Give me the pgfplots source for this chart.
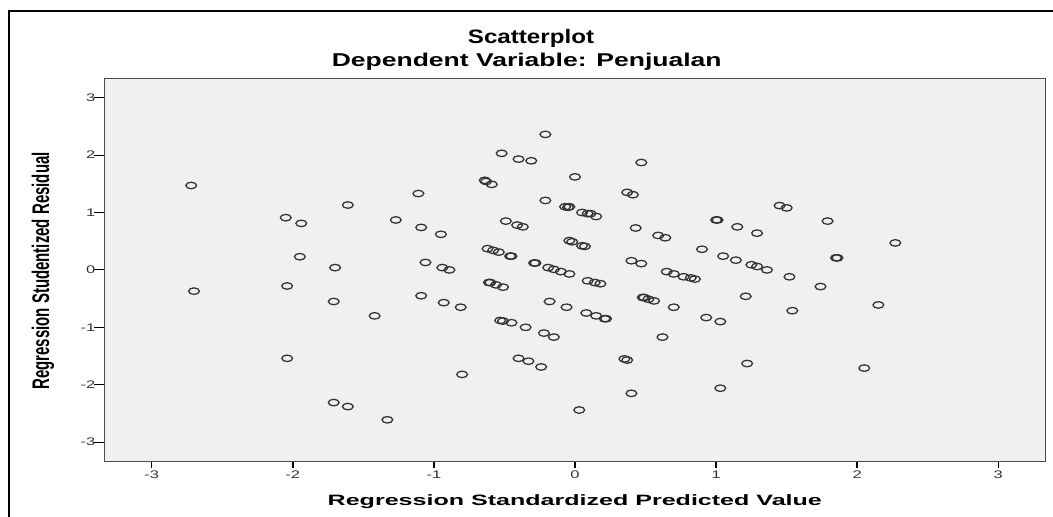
\documentclass[border=0pt]{standalone}
\usepackage{pgfplots}
\pgfplotsset{compat=1.18}
\usepackage{fontspec}
\setmainfont{Liberation Sans}
\usepackage{graphicx}
\definecolor{bg}{HTML}{F0F0F0}
\newcommand\sx[1]{\scalebox{1.5}[1]{#1}}
\pgfplotstableread{
x y
-2.72 1.47
-2.70 -0.37
-2.05 0.91
-1.94 0.81
-1.95 0.23
-2.04 -0.28
-2.04 -1.54
-1.61 1.13
-1.70 0.04
-1.71 -0.55
-1.71 -2.31
-1.61 -2.38
-1.42 -0.80
-1.33 -2.61
-1.27 0.87
-1.11 1.33
-1.09 0.74
-1.06 0.13
-1.09 -0.45
-0.95 0.62
-0.94 0.04
-0.89 0.00
-0.93 -0.57
-0.81 -0.65
-0.80 -1.82
-0.64 1.56
-0.63 1.54
-0.59 1.49
-0.52 2.03
-0.40 1.93
-0.31 1.90
-0.21 2.36
-0.21 1.21
-0.49 0.85
-0.41 0.78
-0.37 0.75
-0.62 0.37
-0.58 0.34
-0.54 0.31
-0.46 0.24
-0.45 0.24
-0.61 -0.22
-0.60 -0.22
-0.56 -0.26
-0.51 -0.30
-0.53 -0.88
-0.51 -0.89
-0.45 -0.92
-0.35 -1.00
-0.22 -1.10
-0.15 -1.17
-0.40 -1.54
-0.33 -1.59
-0.24 -1.69
-0.29 0.12
-0.28 0.12
-0.19 0.04
-0.15 0.01
-0.10 -0.03
-0.04 -0.07
-0.18 -0.55
-0.06 -0.65
0.00 1.62
-0.07 1.10
-0.05 1.09
-0.04 1.10
0.05 1.00
0.09 0.98
0.11 0.98
0.15 0.93
-0.04 0.51
-0.02 0.49
0.05 0.42
0.07 0.41
0.09 -0.19
0.14 -0.22
0.18 -0.24
0.08 -0.75
0.15 -0.80
0.22 -0.85
0.21 -0.85
0.03 -2.44
0.47 1.87
0.37 1.35
0.41 1.31
0.43 0.73
0.59 0.60
0.64 0.56
0.40 0.16
0.47 0.11
0.48 -0.48
0.49 -0.48
0.52 -0.51
0.56 -0.54
0.70 -0.65
0.62 -1.17
0.35 -1.55
0.37 -1.57
0.40 -2.15
0.65 -0.03
0.70 -0.07
0.77 -0.12
0.82 -0.14
0.85 -0.16
1.45 1.12
1.50 1.08
1.00 0.87
1.01 0.87
1.15 0.75
1.29 0.64
1.79 0.85
0.90 0.36
1.05 0.24
1.14 0.17
1.25 0.09
1.29 0.06
1.36 0.00
1.85 0.21
1.86 0.21
2.27 0.47
1.52 -0.12
1.74 -0.29
1.21 -0.46
1.54 -0.71
2.15 -0.61
0.93 -0.83
1.03 -0.90
1.22 -1.63
2.05 -1.71
1.03 -2.06
}\pts
\begin{document}
\begin{tikzpicture}[x=0.75pt,y=0.75pt]
\useasboundingbox (0,0) rectangle (1053,517);
\draw[line width=2pt] (9,0) -- (9,506) -- (1053,506);
\begin{axis}[
  at={(78.225pt,41.475pt)}, anchor=south west,
  scale only axis, width=706.05pt, height=287.25pt,
  xmin=-3.336, xmax=3.336, ymin=-3.34, ymax=3.33,
  axis background/.style={fill=bg},
  axis line style={draw=black!70, line width=0.9pt},
  xtick={-3,-2,-1,0,1,2,3}, ytick={-3,-2,-1,0,1,2,3},
  xticklabels={\sx{-3},\sx{-2},\sx{-1},\sx{0},\sx{1},\sx{2},\sx{3}},
  yticklabels={\sx{-3},\sx{-2},\sx{-1},\sx{0},\sx{1},\sx{2},\sx{3}},
  tick align=outside, xtick pos=bottom, ytick pos=left,
  major tick length=4.5pt,
  xtick style={draw=black, line width=1.1pt},
  ytick style={draw=black, line width=0.8pt, /pgfplots/major tick length=7.5pt},
  ticklabel style={font=\fontsize{8.25pt}{9pt}\selectfont, text=black!80, inner sep=1pt},
  xticklabel style={yshift=-1pt},
  yticklabel style={xshift=-1pt},
  clip=false,
]
\addplot[only marks, mark=o, mark size=2.45pt,
  mark options={xscale=1.65, line width=0.95pt, draw=black!80}] table {\pts};
\end{axis}
\node[anchor=base, inner sep=0] at (531,473.7) {\fontsize{14.6pt}{16pt}\selectfont\bfseries\scalebox{1.24}[1]{Scatterplot}};
\node[anchor=base, inner sep=0] at (526.7,450.3) {\fontsize{13.9pt}{16pt}\selectfont\bfseries\scalebox{1.43}[1]{Dependent Variable: Penjualan}};
\node[anchor=base, inner sep=0] at (574.8,11.3) {\fontsize{11.25pt}{13pt}\selectfont\bfseries\scalebox{1.67}[1]{Regression Standardized Predicted Value}};
\node[inner sep=0] at (43,246) {\fontsize{11.25pt}{13pt}\selectfont\bfseries\scalebox{1.6}[1]{\rotatebox{90}{Regression Studentized Residual}}};
\end{tikzpicture}
\end{document}
